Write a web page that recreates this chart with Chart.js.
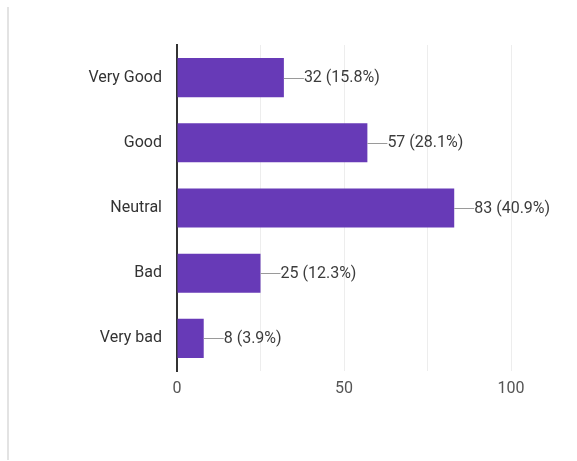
<!DOCTYPE html>
<html>
<head>
<meta charset="utf-8">
<script src="https://cdn.jsdelivr.net/npm/chart.js@4"></script>
<style>
  html, body { margin: 0; padding: 0; background: #fff; }
  #wrap { position: relative; width: 577px; height: 461px; }
  #edge { position: absolute; left: 7px; top: 7px; width: 2px; height: 453px; background: #e3e3e3; }
  canvas { position: absolute; left: 0; top: 0; }
</style>
</head>
<body>
<div id="wrap">
  <div id="edge"></div>
  <canvas id="c" width="577" height="461"></canvas>
</div>
<script>
const categories = ["Very Good", "Good", "Neutral", "Bad", "Very bad"];
const counts = [32, 57, 83, 25, 8];
const percents = ["15.8%", "28.1%", "40.9%", "12.3%", "3.9%"];
const xTicks = [0, 25, 50, 75, 100];
const xTickLabels = ["0", "", "50", "", "100"];

const leaderPlugin = {
  id: 'leader',
  afterDatasetsDraw(chart) {
    const ctx = chart.ctx;
    const meta = chart.getDatasetMeta(0);
    ctx.save();
    meta.data.forEach((bar, i) => {
      const x0 = bar.x, y = Math.round(bar.y) + 0.5;
      ctx.strokeStyle = '#9a9a9a';
      ctx.lineWidth = 1;
      ctx.beginPath();
      ctx.moveTo(x0, y);
      ctx.lineTo(x0 + 20, y);
      ctx.stroke();
      ctx.fillStyle = '#3c3c3c';
      ctx.font = '16px Roboto';
      ctx.textBaseline = 'middle';
      ctx.textAlign = 'left';
      ctx.fillText(counts[i] + ' (' + percents[i] + ')', x0 + 20, bar.y + 0.5);
    });
    ctx.restore();
  }
};

new Chart(document.getElementById('c'), {
  type: 'bar',
  data: {
    labels: categories,
    datasets: [{
      data: counts,
      backgroundColor: '#673ab7',
      borderWidth: 0,
      categoryPercentage: 1,
      barPercentage: 0.6
    }]
  },
  options: {
    indexAxis: 'y',
    responsive: false,
    animation: false,
    devicePixelRatio: 1,
    layout: { padding: { left: 0, right: 66, top: 45, bottom: 0 } },
    plugins: { legend: { display: false }, tooltip: { enabled: false } },
    scales: {
      x: {
        min: 0, max: 100,
        afterBuildTicks(scale) { scale.ticks = xTicks.map(v => ({ value: v })); },
        afterFit(scale) { scale.height = 90; },
        grid: { color: '#ededed', lineWidth: 1, drawTicks: false },
        border: { display: false },
        ticks: {
          autoSkip: false,
          maxRotation: 0,
          padding: 8,
          color: '#555',
          font: { family: 'Roboto', size: 16 },
          callback(v, i) { return xTickLabels[i]; }
        }
      },
      y: {
        afterFit(scale) { scale.width = 177; },
        grid: { display: false, drawTicks: false },
        border: { display: true, color: '#333', width: 2 },
        ticks: {
          padding: 15,
          color: '#333',
          font: { family: 'Roboto', size: 16 }
        }
      }
    }
  },
  plugins: [leaderPlugin]
});
</script>
</body>
</html>
